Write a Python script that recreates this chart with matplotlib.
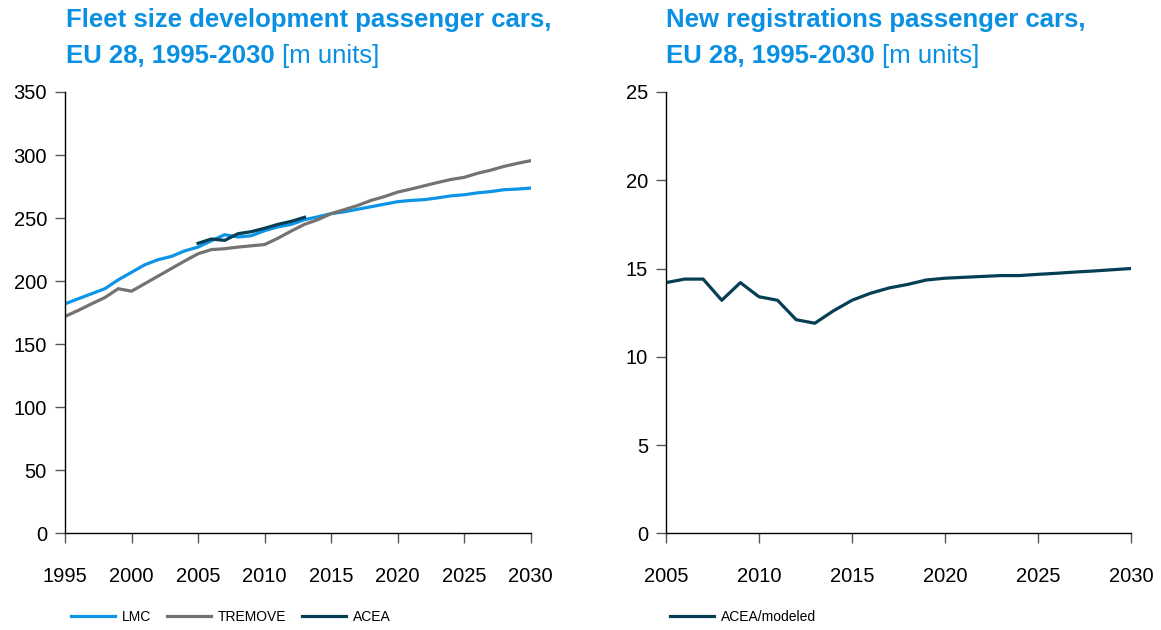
import matplotlib
matplotlib.use("Agg")
from matplotlib import pyplot as plt
import numpy as np

plt.rcParams['font.family'] = ['Liberation Sans', 'DejaVu Sans']

# --- data ---
years_fleet = np.arange(1995, 2031)
lmc = [182, 186, 190, 194, 201, 207, 213, 217, 219.6, 224, 227, 232, 236.8, 235, 236,
       240, 243, 245, 248.7, 251, 253.5, 255, 257, 259, 261, 263, 264, 264.6, 266, 267.6,
       268.5, 270, 271, 272.5, 273, 273.8]
tremove = [172, 176.8, 182, 187, 194, 192, 198, 204, 210, 216, 221.7, 225, 225.7, 227, 228,
           229, 234, 239.7, 245, 248.7, 253.5, 256.7, 260, 264, 267, 270.6, 273, 275.6, 278.2,
           280.6, 282.3, 285.5, 288, 291, 293.4, 295.5]
years_acea = np.arange(2005, 2014)
acea = [230, 233.4, 232.3, 237.6, 239.2, 241.9, 245, 247.4, 250.6]

years_reg = np.arange(2005, 2031)
registrations = [14.2, 14.4, 14.4, 13.2, 14.2, 13.4, 13.2, 12.1, 11.9, 12.6, 13.2, 13.6,
                 13.9, 14.1, 14.35, 14.45, 14.5, 14.55, 14.6, 14.6, 14.67, 14.73, 14.8,
                 14.86, 14.93, 15.0]

c_blue = '#0C95E6'
c_gray = '#767272'
c_dark = '#063F55'
title_col = '#0A90E2'

fig = plt.figure(figsize=(11.61, 6.30), dpi=100)

ax1 = fig.add_axes([0.0560, 0.1535, 0.4011, 0.7005])
ax2 = fig.add_axes([0.5736, 0.1535, 0.4006, 0.7005])

ax1.plot(years_fleet, lmc, color=c_blue, lw=2.3, label='LMC')
ax1.plot(years_fleet, tremove, color=c_gray, lw=2.3, label='TREMOVE')
ax1.plot(years_acea, acea, color=c_dark, lw=2.3, label='ACEA')
ax1.set_xlim(1995, 2030)
ax1.set_ylim(0, 350)
ax1.set_xticks(np.arange(1995, 2031, 5))
ax1.set_yticks(np.arange(0, 351, 50))

ax2.plot(years_reg, registrations, color=c_dark, lw=2.3, label='ACEA/modeled')
ax2.set_xlim(2005, 2030)
ax2.set_ylim(0, 25)
ax2.set_xticks(np.arange(2005, 2031, 5))
ax2.set_yticks(np.arange(0, 26, 5))

for axe in (ax1, ax2):
    for s in ('top', 'right'):
        axe.spines[s].set_visible(False)
    axe.spines['left'].set_linewidth(1)
    axe.spines['bottom'].set_linewidth(1)
    axe.tick_params(axis='both', direction='out', length=7, width=1,
                    labelsize=14.5, color='#555555', pad=6)
    axe.tick_params(axis='x', pad=17)

ax1.legend(loc='center left', bbox_to_anchor=(0.061, 0.021), bbox_transform=fig.transFigure,
           ncol=3, frameon=False, fontsize=10, handlelength=3.2, handletextpad=0.5,
           columnspacing=1.1, borderaxespad=0, borderpad=0)
ax2.legend(loc='center left', bbox_to_anchor=(0.577, 0.021), bbox_transform=fig.transFigure,
           ncol=1, frameon=False, fontsize=10, handlelength=3.2, handletextpad=0.5,
           borderaxespad=0, borderpad=0)

# titles, second line mixes bold and regular
fig.canvas.draw()
r = fig.canvas.get_renderer()
tsize = 18.5
titles = [("Fleet size development passenger cars,", 0.0568),
          ("New registrations passenger cars,", 0.5736)]
for txt, x in titles:
    fig.text(x, 0.987, txt, fontsize=tsize, fontweight='bold', color=title_col,
             va='top', ha='left')
    b = fig.text(x, 0.930, "EU 28, 1995-2030 ", fontsize=tsize, fontweight='bold',
                 color=title_col, va='top', ha='left')
    bb = b.get_window_extent(renderer=r)
    fig.text(bb.x1 / fig.bbox.width, 0.930, "[m units]", fontsize=tsize, color=title_col,
             va='top', ha='left')

fig.savefig('out.png', dpi=100)
